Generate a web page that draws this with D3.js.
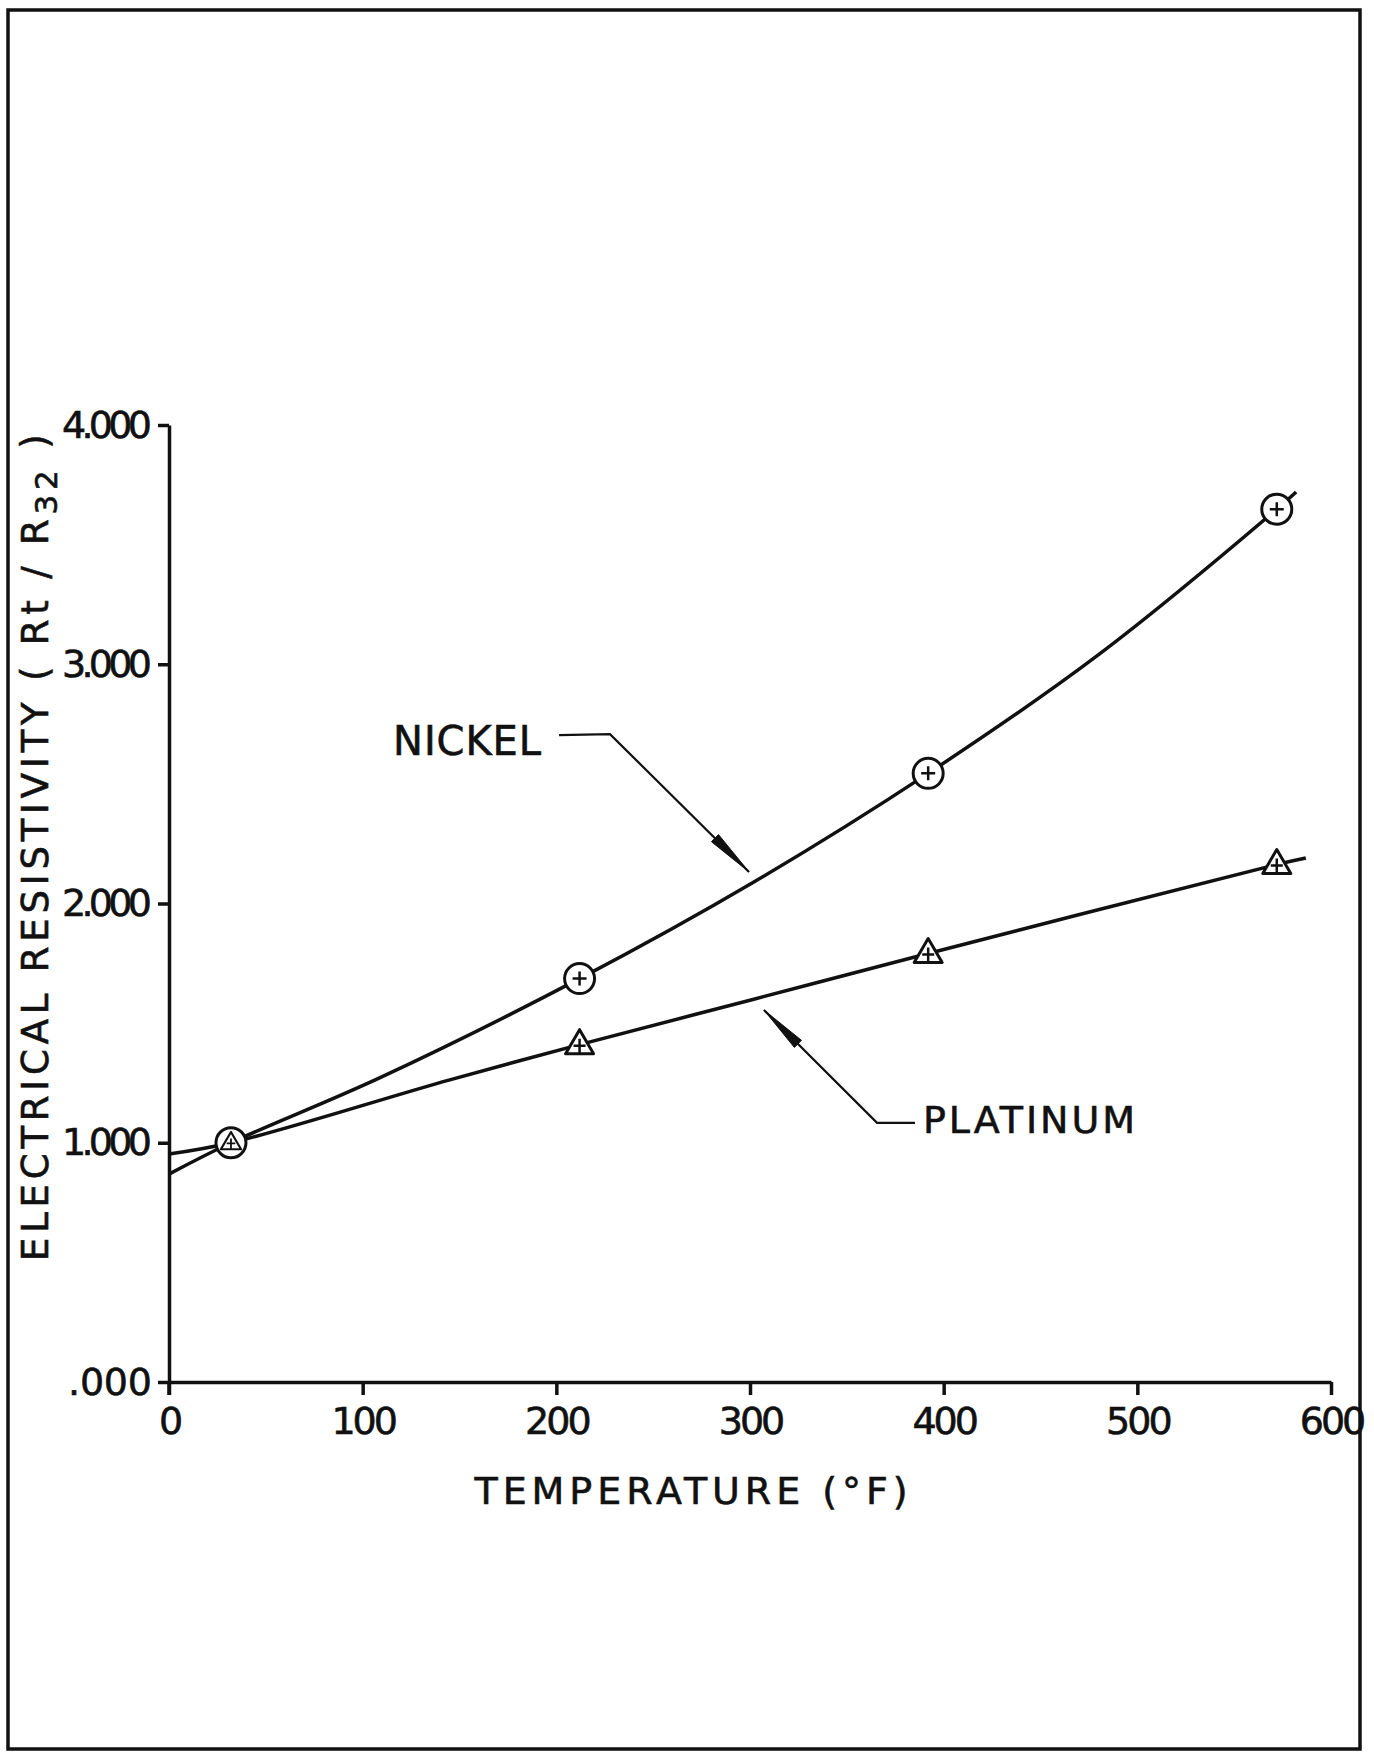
<!DOCTYPE html>
<html>
<head>
<meta charset="utf-8">
<script src="https://cdn.jsdelivr.net/npm/d3@7"></script>
<style>
  body { margin: 0; background: #fff; }
  text { font-family: 'DejaVu Sans', sans-serif; fill: #111; stroke: #111; stroke-width: 0.6; }
</style>
</head>
<body>
<div id="chart"></div>
<script>
// Tick values and labels
var xTicks = [0, 100, 200, 300, 400, 500, 600]
var yTicks = [0, 1, 2, 3, 4]
var yTickLabels = ['.000', '1.000', '2.000', '3.000', '4.000']

// Measured points (temperature in F, Rt / R32)
var nickelPoints = [[32, 1.0], [212, 1.686], [392, 2.544], [572, 3.648]]
var platinumPoints = [[32, 1.0], [212, 1.41], [392, 1.791], [572, 2.163]]

// Drawn curves
var nickelCurve = [[0, 0.869], [32, 1.0], [109, 1.272], [212, 1.686], [302, 2.09], [392, 2.544], [480, 3.04], [572, 3.648], [582, 3.72]]
var platinumCurve = [[0, 0.953], [32, 1.0], [145, 1.263], [212, 1.41], [302, 1.6], [392, 1.791], [572, 2.163], [587, 2.19]]

// Labels with leader lines (data units)
var nickelLeader = [[201.4, 2.704], [227.7, 2.708], [299.5, 2.132]]
var platinumLeader = [[385.2, 1.083], [365.6, 1.083], [307.2, 1.555]]

var width = 1374
var height = 1753

var svg = d3
  .select('#chart')
  .append('svg')
  .attr('width', width)
  .attr('height', height)

// frame
svg
  .append('rect')
  .attr('x', 8)
  .attr('y', 10)
  .attr('width', 1352)
  .attr('height', 1739)
  .attr('fill', 'none')
  .attr('stroke', '#111')
  .attr('stroke-width', 3.5)

var xPositionScale = d3.scaleLinear().domain([0, 600]).range([169, 1331])
var yPositionScale = d3.scaleLinear().domain([0, 4]).range([1382, 425])

// axes
var xAxis = d3
  .axisBottom(xPositionScale)
  .tickValues(xTicks)
  .tickSize(13)
  .tickSizeOuter(0)
  .tickPadding(12)
  .tickFormat(d3.format('d'))

var xg = svg
  .append('g')
  .attr('class', 'axis x-axis')
  .attr('transform', `translate(0, ${yPositionScale(0)})`)
  .call(xAxis)

xg.selectAll('text')
  .attr('font-size', 38)
  .attr('letter-spacing', -3)
  .attr('dy', '0.72em')

var yAxis = d3
  .axisLeft(yPositionScale)
  .tickValues(yTicks)
  .tickSize(11)
  .tickSizeOuter(0)
  .tickPadding(6)
  .tickFormat((d, i) => yTickLabels[i])

var yg = svg
  .append('g')
  .attr('class', 'axis y-axis')
  .attr('transform', `translate(${xPositionScale(0)}, 0)`)
  .call(yAxis)

yg.selectAll('text')
  .attr('font-size', 38)
  .attr('textLength', d => (d === 0 ? 84 : 90))
  .attr('lengthAdjust', 'spacing')

svg.selectAll('.axis path, .axis line')
  .attr('stroke', '#111')
  .attr('stroke-width', 3.5)

// the y axis runs a little below the x axis
svg
  .append('line')
  .attr('x1', xPositionScale(0))
  .attr('x2', xPositionScale(0))
  .attr('y1', yPositionScale(0))
  .attr('y2', yPositionScale(0) + 13)
  .attr('stroke', '#111')
  .attr('stroke-width', 3.5)

// axis titles
svg
  .append('text')
  .attr('x', 691)
  .attr('y', 1504)
  .attr('text-anchor', 'middle')
  .attr('font-size', 38)
  .attr('textLength', 433)
  .attr('lengthAdjust', 'spacing')
  .text('TEMPERATURE (°F)')

var yTitle = svg
  .append('text')
  .attr('transform', 'translate(48, 1261) rotate(-90)')
  .attr('font-size', 37)
  .attr('letter-spacing', 4.8)

yTitle.append('tspan').text('ELECTRICAL RESISTIVITY ( Rt / R')
yTitle.append('tspan').attr('dy', 9).attr('font-size', 31).text('32')
yTitle.append('tspan').attr('dy', -9).text(' )')

// curves
var line = d3
  .line()
  .x(d => xPositionScale(d[0]))
  .y(d => yPositionScale(d[1]))
  .curve(d3.curveCatmullRom.alpha(0.5))

svg
  .selectAll('.curve')
  .data([platinumCurve, nickelCurve])
  .enter()
  .append('path')
  .attr('class', 'curve')
  .attr('d', d => line(d))
  .attr('fill', 'none')
  .attr('stroke', '#111')
  .attr('stroke-width', 3.5)

// nickel markers: circle with a plus
var circles = svg
  .selectAll('.nickel-mark')
  .data(nickelPoints)
  .enter()
  .append('g')
  .attr('class', 'nickel-mark')
  .attr('transform', d => `translate(${xPositionScale(d[0])}, ${yPositionScale(d[1])})`)

circles
  .append('circle')
  .attr('r', 15)
  .attr('fill', '#fff')
  .attr('stroke', '#111')
  .attr('stroke-width', 3)

circles
  .append('path')
  .attr('d', d => {
    var pt = platinumPoints.find(p => p[0] === d[0] && Math.abs(p[1] - d[1]) < 0.05)
    return pt ? '' : 'M-7,0H7M0,-7V7'
  })
  .attr('stroke', '#111')
  .attr('stroke-width', 2.5)

// platinum markers: triangle with a plus
var triangles = svg
  .selectAll('.platinum-mark')
  .data(platinumPoints)
  .enter()
  .append('g')
  .attr('class', 'platinum-mark')
  .attr('transform', d => {
    var shared = nickelPoints.find(p => p[0] === d[0] && Math.abs(p[1] - d[1]) < 0.05)
    var k = shared ? 0.72 : 1
    return `translate(${xPositionScale(d[0])}, ${yPositionScale(d[1])}) scale(${k})`
  })

triangles
  .append('path')
  .attr('d', 'M0,-15L14,9L-14,9Z')
  .attr('fill', '#fff')
  .attr('stroke', '#111')
  .attr('stroke-width', 3)
  .attr('stroke-linejoin', 'round')

triangles
  .append('path')
  .attr('d', 'M-6,1H6M0,-6V9')
  .attr('stroke', '#111')
  .attr('stroke-width', 2.5)

// leader lines with long thin arrowheads
var leader = d3
  .line()
  .x(d => xPositionScale(d[0]))
  .y(d => yPositionScale(d[1]))

function arrowHead(pts) {
  var p = pts[pts.length - 1]
  var q = pts[pts.length - 2]
  var px = xPositionScale(p[0])
  var py = yPositionScale(p[1])
  var qx = xPositionScale(q[0])
  var qy = yPositionScale(q[1])
  var len = Math.hypot(px - qx, py - qy)
  var ux = (px - qx) / len
  var uy = (py - qy) / len
  var bx = px - ux * 48
  var by = py - uy * 48
  return `M${px},${py}L${bx - uy * 5},${by + ux * 5}L${bx + uy * 5},${by - ux * 5}Z`
}

;[nickelLeader, platinumLeader].forEach(pts => {
  svg
    .append('path')
    .attr('d', leader(pts))
    .attr('fill', 'none')
    .attr('stroke', '#111')
    .attr('stroke-width', 2.2)
  svg
    .append('path')
    .attr('d', arrowHead(pts))
    .attr('fill', '#111')
    .attr('stroke', '#111')
    .attr('stroke-width', 1)
})

// curve labels
svg
  .append('text')
  .attr('x', xPositionScale(115.7))
  .attr('y', yPositionScale(2.621))
  .attr('font-size', 40)
  .attr('textLength', 148)
  .attr('lengthAdjust', 'spacing')
  .text('NICKEL')

svg
  .append('text')
  .attr('x', xPositionScale(389.3))
  .attr('y', yPositionScale(1.041))
  .attr('font-size', 38)
  .attr('textLength', 212)
  .attr('lengthAdjust', 'spacing')
  .text('PLATINUM')
</script>
</body>
</html>
